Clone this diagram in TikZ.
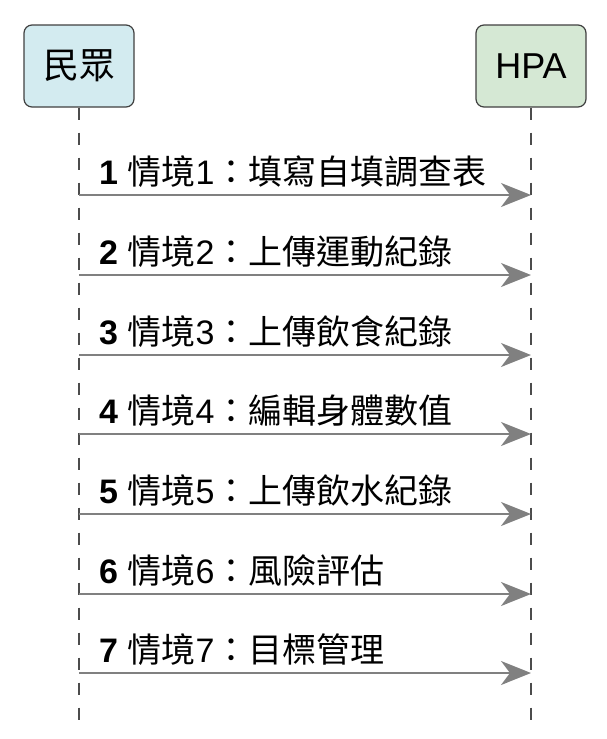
\documentclass[tikz,border=0pt]{standalone}
\usepackage{fontspec}
\setmainfont{Liberation Sans}
\newfontfamily\cjk{Noto Sans CJK TC}
\usetikzlibrary{arrows.meta}

\definecolor{actorblue}{HTML}{D3EBF0}
\definecolor{actorgreen}{HTML}{D5E8D4}
\definecolor{msggray}{HTML}{808080}

\newcommand\scen[3]{{\bfseries #1} {\cjk 情境}#2{\cjk ：#3}}

\begin{document}
\begin{tikzpicture}[x=1pt,y=-1pt]

\tikzset{actor/.style = {draw=black!75,line width=1.2pt,rounded corners=8pt,
  minimum width=110pt,minimum height=82pt,inner sep=0pt,font=\fontsize{36}{42}\selectfont}}
\tikzset{life/.style = {draw=black!70,line width=1.2pt,dash pattern=on 12pt off 13pt}}
\tikzset{msg/.style = {draw=msggray,line width=2.2pt,-{Stealth[length=30pt,width=24pt,inset=9pt]}}}
\tikzset{lbl/.style = {anchor=base west,inner sep=0pt,font=\fontsize{34}{40}\selectfont}}

\useasboundingbox (0,0) rectangle (606,739);

% actors
\node[actor,fill=actorblue]  (people) at (79,66)  {\cjk 民眾};
\node[actor,fill=actorgreen] (hpa)    at (531,66) {HPA};

% lifeline ends
\coordinate (peopleEnd) at (79,720);
\coordinate (hpaEnd)    at (531,720);

% lifelines
\draw[life] (people.south) -- (peopleEnd);
\draw[life] (hpa.south) -- (hpaEnd);

% messages
\foreach \i/\y/\txt in {1/195/填寫自填調查表, 2/275/上傳運動紀錄, 3/355/上傳飲食紀錄,
  4/434/編輯身體數值, 5/514/上傳飲水紀錄, 6/594/風險評估, 7/673/目標管理} {
  \coordinate (s\i) at (79,\y);
  \coordinate (t\i) at (531,\y);
  \draw[msg] (s\i) -- (t\i);
  \node[lbl] (m\i) at (99,\y-11) {\scen{\i}{\i}{\txt}};
}

\end{tikzpicture}
\end{document}
